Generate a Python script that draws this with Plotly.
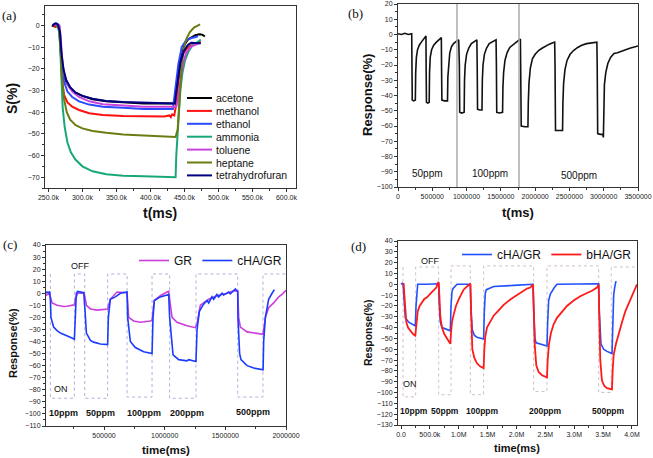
import numpy as np
import plotly.graph_objects as go

# ---------- (a) S(%) vs t, time in units of 1000 ms ----------
gases = ["acetone", "methanol", "ethanol", "ammonia", "toluene", "heptane", "tetrahydrofuran"]
gas_colors = ["#000000", "#ff1010", "#2a4bff", "#18a878", "#cc44dd", "#6b7d12", "#000080"]

acetone_t = [255, 260, 263, 265, 267, 269, 272, 276, 282, 290, 300, 315, 335, 360, 390, 420, 436, 437, 440, 445, 450, 455, 460, 466, 472, 476, 480]
acetone_s = [0, -0.5, 0, -1, -5, -15, -22, -26, -29, -31, -32.5, -34, -35, -35.5, -36, -36, -36, -34, -25, -15, -9, -6.5, -5.5, -4.5, -4, -4.2, -5]
methanol_t = [257, 262, 266, 268, 270, 273, 278, 285, 295, 310, 330, 360, 390, 420, 428, 430, 432, 435, 437, 440, 444, 448, 455, 462, 470, 474]
methanol_s = [0, -0.5, -1, -10, -25, -32, -35.5, -37.5, -39, -40.5, -41.3, -41.8, -42, -42, -41.5, -42.3, -41, -41.5, -38, -28, -18, -13, -10, -9, -8, -7.5]
ethanol_t = [257, 262, 266, 268, 270, 273, 278, 285, 295, 310, 330, 360, 390, 420, 433, 434, 437, 441, 446, 452, 458, 465, 470]
ethanol_s = [0.5, 1, 0, -8, -20, -26, -30.5, -33, -35, -36.5, -37.5, -38, -38.5, -38.5, -38.5, -36, -28, -18, -10, -7, -6, -5.5, -5]
ammonia_t = [262, 265, 267, 269, 271, 274, 278, 283, 290, 300, 315, 335, 360, 390, 420, 437, 438, 440, 442, 444, 447, 451, 456, 462, 470, 474]
ammonia_s = [0, -1, -8, -25, -38, -47, -54, -58.5, -62, -65, -67.3, -68.7, -69.3, -69.6, -69.8, -70, -60, -48, -38, -30, -22, -16, -12, -9, -7.5, -6.5]
toluene_t = [257, 262, 266, 268, 270, 273, 278, 285, 295, 310, 330, 360, 390, 420, 438, 440, 443, 447, 452, 458, 465, 470, 474]
toluene_s = [0.5, 0.5, 0, -5, -15, -22, -27, -30.5, -33, -35, -36.3, -37, -37.5, -37.5, -37.5, -35, -27, -19, -13, -10, -9, -8.5, -8]
heptane_t = [264, 266, 268, 270, 273, 277, 282, 290, 300, 315, 335, 360, 390, 420, 437, 440, 442, 444, 446, 449, 453, 458, 464, 470, 473]
heptane_s = [0, -3, -12, -24, -34, -40, -43.5, -46, -47.5, -48.7, -49.5, -50.3, -50.8, -51.3, -51.5, -48, -40, -28, -18, -11, -6, -3, -1, 0, 0.5]
thf_t = [256, 260, 264, 267, 269, 272, 276, 282, 290, 300, 315, 335, 360, 390, 420, 436, 437, 440, 444, 449, 455, 460, 465, 470, 474]
thf_s = [0, 1, 0.5, -3, -12, -20, -25, -28.5, -31, -32.5, -33.8, -34.8, -35.3, -35.5, -35.8, -36, -33, -25, -17, -12, -9, -8, -8, -8, -8.2]

# ---------- (b) response vs t ----------
b_t = [0, 50, 100, 150, 200, 204, 208, 230, 250, 253,
       258, 268, 285, 310, 340, 370, 400, 408,
       410, 415, 435, 455, 460, 470, 490, 520, 560, 600, 632,
       635, 640, 680, 722, 727, 738, 755, 780, 810, 850, 885,
       895, 900, 930, 965, 970, 980, 1000, 1030, 1070, 1110, 1150,
       1155, 1160, 1190, 1225, 1230, 1240, 1260, 1290, 1330, 1380, 1430,
       1435, 1440, 1480, 1525, 1530, 1540, 1560, 1590, 1630, 1680, 1740, 1785,
       1790, 1797, 1850, 1895, 1900, 1910, 1930, 1960, 2000, 2050, 2100, 2150, 2200, 2240, 2285,
       2290, 2297, 2350, 2400, 2405, 2415, 2435, 2465, 2510, 2560, 2620, 2680, 2750, 2820, 2900,
       2905, 2912, 2950, 2985, 2995, 3000, 3010, 3030, 3060, 3100, 3150, 3200, 3280, 3380, 3500]
b_r = [0.5, 0, 0.8, 0, 0.5, -20, -43, -43.5, -43, -43,
       -25, -15, -10, -7, -5, -3, -1.5, -1,
       -20, -44.5, -45, -44.5, -25, -15, -10, -7, -5, -3, -2,
       -20, -43, -43.5, -43.5, -28, -18, -12, -8, -6, -4.5, -3.5,
       -20, -51, -51.5, -51, -30, -20, -13, -9, -6, -4.5, -3.5,
       -20, -49, -49.5, -49.5, -30, -20, -13, -9, -6, -4.5, -3.5,
       -20, -51, -51.5, -51, -35, -25, -17, -12, -8.5, -6.5, -4.5, -3,
       -20, -60, -60.5, -60.5, -45, -32, -22, -16, -13, -10.5, -9, -7.5, -6.5, -5.8, -5,
       -20, -63, -63, -63, -45, -32, -23, -17, -13, -10.5, -8.5, -7, -6, -5.5, -5,
       -20, -65, -65.5, -65.5, -67.5, -45, -33, -25, -19, -15, -12.5, -12, -10.5, -9, -7.5]
b_dividers = [860, 1765]
b_labels = ["50ppm", "100ppm", "500ppm"]
b_label_t = [423, 1346, 2644]
b_label_y = [-91.3, -91.3, -92.4]

# ---------- (c) GR vs cHA/GR ----------
gr_t = [22, 44, 58, 72, 113, 168, 195, 256, 264, 283, 333, 341, 355, 388, 443, 497, 530, 552, 594, 607,
        690, 695, 703, 745, 800, 882, 896, 915, 964, 1019, 1033, 1041, 1061, 1102, 1184, 1253, 1267, 1294, 1363, 1431,
        1514, 1569, 1602, 1610, 1624, 1679, 1789, 1811, 1830, 1857, 1898, 1940, 1967, 2000]
gr_r = [-2, 0, -3, -8, -10, -11, -10.8, -9.5, -5, 0, 0.3, -2, -10, -13, -14, -13.5, -13, -5, -1, 1,
        0.5, -10, -20, -23, -24, -23, -22.5, -6, -2, 1, 1.5, -5, -20, -24, -27, -28.5, -25, -10, -5, -2,
        0, 2, 2, -20, -28, -32, -34, -34, -20, -12, -8, -3, -1, 2.5]
cha_c_t = [22, 30, 44, 52, 58, 63, 85, 113, 141, 195, 236, 256, 262, 272, 283, 319, 333, 344, 355, 388,
           415, 470, 530, 536, 552, 594, 635, 690, 695, 717, 758, 827, 896, 904, 915, 964, 1033, 1041, 1061, 1069,
           1116, 1184, 1198, 1258, 1267, 1286, 1321, 1349, 1363, 1390, 1404, 1431, 1445, 1473, 1486, 1528, 1541, 1569, 1583, 1602,
           1604, 1618, 1629, 1679, 1734, 1811, 1816, 1830, 1857, 1885, 1904]
cha_c_r = [0, 1, 0.5, 1.5, -5, -20, -28, -31, -33, -35, -37, -38, -20, 0, 1.5, 1, 0.5, -15, -33, -39,
           -40.5, -42, -42.5, -20, -5, -3, 0, 1, -20, -40, -45, -48.5, -50, -20, -6, -3, -1, -20, -48, -51,
           -55, -56, -55, -56.5, -30, -15, -9, -6, -8, -3, -5, -1, -3, 0, -1.5, 1, -0.5, 2, 3.5, 1,
           -20, -50, -55, -60, -62, -63.5, -40, -20, -5, 0, 3]
sw_c_t = [58, 58, 256, 341, 530, 690, 896, 1041, 1258, 1602, 1810, 2000]
sw_c_v = [16, -87, 16, -87, 16, -86, 16, -87, 16, -86, 16, 16]
c_labels = ["10ppm", "50ppm", "100ppm", "200ppm", "500ppm"]
c_label_t = [168, 470, 827, 1184, 1725]
c_label_y = [-99.5, -99.5, -99.5, -99.5, -98.7]

# ---------- (d) cHA/GR vs bHA/GR ----------
cha_d_t = [0, 23, 35, 46, 58, 75, 133, 190, 248, 260, 277, 289, 450, 623, 652, 664, 681, 710, 797, 854,
           866, 883, 900, 941, 970, 1201, 1212, 1235, 1270, 1316, 1431, 1443, 1460, 1478, 1605, 1951, 2286, 2297, 2320, 2338,
           2470, 2528, 2540, 2557, 2586, 2615, 2655, 2701, 3105, 3423, 3434, 3463, 3509, 3567, 3654, 3665, 3683, 3700, 3723]
cha_d_r = [0, 1, 0.5, -10, -25, -31, -35, -37, -38.5, -20, -3, 0, 0, 0.5, 0.5, -20, -35, -40, -42, -43,
           -20, -7, -4, -1, 0, 0, -25, -42, -47, -49, -50.5, -25, -8, -5, -2, -1, 0, -20, -50, -54,
           -56, -57, -35, -15, -9, -6, -3, 0, 0.5, 0.5, -25, -55, -60, -62, -64, -30, -10, -3, 3]
bha_d_t = [35, 46, 58, 75, 92, 121, 162, 208, 248, 260, 271, 289, 323, 364, 404, 450, 496, 537, 577, 612,
           635, 652, 664, 681, 710, 750, 797, 854, 866, 883, 912, 952, 999, 1039, 1085, 1143, 1189, 1201, 1212, 1224,
           1235, 1270, 1316, 1374, 1431, 1443, 1460, 1489, 1547, 1605, 1691, 1778, 1893, 2009, 2095, 2182, 2240, 2286, 2297, 2315,
           2343, 2384, 2442, 2528, 2540, 2563, 2597, 2643, 2701, 2788, 2874, 2990, 3105, 3221, 3307, 3394, 3423, 3434, 3451, 3480,
           3521, 3567, 3654, 3665, 3683, 3723, 3769, 3827, 3885, 3942, 4000, 4058, 4087]
bha_d_r = [0, 1, -10, -30, -35, -40, -43, -46, -47.5, -40, -30, -25, -20, -17, -13.5, -12, -9, -7, -5, -3,
           1, 2, -10, -30, -40, -46, -50, -55, -45, -35, -28, -20, -14, -9, -5, -2, 0, 0.5, -20, -45,
           -60, -68, -73, -76, -77.5, -60, -48, -40, -34, -29, -24, -19, -14, -10, -7, -4, -3, 0, -20, -55,
           -75, -81, -84, -86, -70, -55, -45, -37, -31, -25, -20, -15, -11, -8, -6, -3, 0, -30, -70, -89,
           -94, -96, -97, -80, -65, -55, -45, -35, -25, -18, -12, -5, 0]
sw_d_t = [35, 35, 254, 652, 866, 1201, 1431, 2297, 2528, 3423, 3642, 4087]
sw_d_v = [16, -104, 16, -102, 17, -102, 17, -99, 17, -100, 16, 16]
d_labels = ["10ppm", "50ppm", "100ppm", "200ppm", "500ppm"]
d_label_t = [219, 768, 1403, 2499, 3596]
d_label_y = [-117.5, -117.5, -117.5, -117.5, -117.5]
d_ticks = [0, 500, 1000, 1500, 2000, 2500, 3000, 3500, 4000]
d_ticktext = ["0.0", "500.0k", "1.0M", "1.5M", "2.0M", "2.5M", "3.0M", "3.5M", "4.0M"]

W, H = 653, 458
FONT = "Liberation Sans, Arial, sans-serif"


def ms(v):
    return np.array(v) * 1000


def px(x, y):
    return x / W, 1 - y / H


fig = go.Figure()

a_times = [acetone_t, methanol_t, ethanol_t, ammonia_t, toluene_t, heptane_t, thf_t]
a_vals = [acetone_s, methanol_s, ethanol_s, ammonia_s, toluene_s, heptane_s, thf_s]
for name, t, s, c in zip(gases, a_times, a_vals, gas_colors):
    fig.add_trace(go.Scatter(x=ms(t), y=s, name=name, mode="lines",
                             line=dict(color=c, width=2), showlegend=False,
                             xaxis="x", yaxis="y"))

fig.add_trace(go.Scatter(x=ms(b_t), y=b_r, mode="lines", line=dict(color="#111", width=1.6),
                         showlegend=False, xaxis="x2", yaxis="y2"))

fig.add_trace(go.Scatter(x=ms(sw_c_t), y=sw_c_v, mode="lines", line_shape="hv",
                         line=dict(color="#b0b0dc", width=1, dash="dot"),
                         showlegend=False, xaxis="x3", yaxis="y3"))
fig.add_trace(go.Scatter(x=ms(gr_t), y=gr_r, name="GR", mode="lines",
                         line=dict(color="#cc3ddd", width=1.6), legend="legend",
                         xaxis="x3", yaxis="y3"))
fig.add_trace(go.Scatter(x=ms(cha_c_t), y=cha_c_r, name="cHA/GR", mode="lines",
                         line=dict(color="#1a3cff", width=1.6), legend="legend",
                         xaxis="x3", yaxis="y3"))

fig.add_trace(go.Scatter(x=ms(sw_d_t), y=sw_d_v, mode="lines", line_shape="hv",
                         line=dict(color="#d0c0c0", width=1, dash="dot"),
                         showlegend=False, xaxis="x4", yaxis="y4"))
fig.add_trace(go.Scatter(x=ms(cha_d_t), y=cha_d_r, name="cHA/GR", mode="lines",
                         line=dict(color="#2050ff", width=1.6), legend="legend2",
                         xaxis="x4", yaxis="y4"))
fig.add_trace(go.Scatter(x=ms(bha_d_t), y=bha_d_r, name="bHA/GR", mode="lines",
                         line=dict(color="#ff1a1a", width=1.8), legend="legend2",
                         xaxis="x4", yaxis="y4"))

MINOR = dict(ticks="outside", ticklen=2, tickcolor="#333", showgrid=False)


def axis(domain, anchor, rng, minor_step=None, **kw):
    d = dict(domain=domain, anchor=anchor, range=rng, showline=True, mirror=True,
             linecolor="#333", linewidth=1, ticks="outside", ticklen=3, tickwidth=1,
             tickcolor="#333", tickfont=dict(size=7, color="#222", family=FONT),
             showgrid=False, zeroline=False, automargin=False)
    if minor_step is not None:
        d["minor"] = dict(MINOR, dtick=minor_step)
    d.update(kw)
    return d


fig.update_layout(
    width=W, height=H, autosize=False,
    margin=dict(l=0, r=0, t=0, b=0, pad=0, autoexpand=False),
    paper_bgcolor="white", plot_bgcolor="white",
    font=dict(family=FONT, color="#111"),
    xaxis=axis([45 / W, 296 / W], "y", [245000, 614000], 25000, tick0=250000, dtick=50000,
               tickformat=".4s"),
    yaxis=axis([1 - 188 / H, 1 - 6 / H], "x", [-75, 9], 5, dtick=10),
    xaxis2=axis([398 / W, 638 / W], "y2", [0, 3500000], 250000, dtick=500000, tickformat="d"),
    yaxis2=axis([1 - 187 / H, 1 - 4 / H], "x2", [-100, 20], 5, dtick=10),
    xaxis3=axis([46 / W, 286 / W], "y3", [22000, 2000000], 250000, tick0=0, dtick=500000,
                tickformat="d"),
    yaxis3=axis([1 - 426 / H, 1 - 245 / H], "x3", [-110, 40], 5, dtick=10),
    xaxis4=axis([398 / W, 637 / W], "y4", [-52000, 4087000], tickmode="array",
                tickvals=ms(d_ticks), ticktext=d_ticktext,
                minor=dict(MINOR, tickmode="array", tickvals=ms(d_ticks) + 250000)),
    yaxis4=axis([1 - 425 / H, 1 - 241 / H], "x4", [-130, 40], 5, dtick=10),
    legend=dict(orientation="h", x=287 / W, xanchor="right", y=1 - 246 / H, yanchor="top",
                bgcolor="rgba(0,0,0,0)", font=dict(size=12, family=FONT), itemwidth=30),
    legend2=dict(orientation="h", x=637 / W, xanchor="right", y=1 - 240 / H, yanchor="top",
                 bgcolor="rgba(0,0,0,0)", font=dict(size=12, family=FONT), itemwidth=30),
)

ann = []
shapes = []

# panel (a) legend drawn by hand (Plotly legend rows are too tall here)
for i, (name, c) in enumerate(zip(gases, gas_colors)):
    x0, y0 = px(187, 98 + 12.9 * i)
    x1, _ = px(212, 0)
    shapes.append(dict(type="line", xref="paper", yref="paper", x0=x0, x1=x1, y0=y0, y1=y0,
                       line=dict(color=c, width=2)))
    ann.append(dict(text=name, xref="paper", yref="paper", x=px(214, 0)[0], y=y0,
                    xanchor="left", yanchor="middle", showarrow=False,
                    font=dict(size=10.5, family=FONT, color="#111")))

for xv in b_dividers:
    shapes.append(dict(type="line", xref="x2", yref="y2 domain", x0=xv * 1000, x1=xv * 1000,
                       y0=0, y1=1, line=dict(color="#aaaaaa", width=1.5)))

for txt, t, y in zip(b_labels, b_label_t, b_label_y):
    ann.append(dict(text=txt, x=t * 1000, y=y, xref="x2", yref="y2", showarrow=False,
                    font=dict(size=10, family=FONT, color="#111")))
for txt, t, y in zip(c_labels, c_label_t, c_label_y):
    ann.append(dict(text="<b>%s</b>" % txt, x=t * 1000, y=y, xref="x3", yref="y3", showarrow=False,
                    font=dict(size=9, family=FONT, color="#111")))
for txt, t, y in zip(d_labels, d_label_t, d_label_y):
    ann.append(dict(text="<b>%s</b>" % txt, x=t * 1000, y=y, xref="x4", yref="y4", showarrow=False,
                    font=dict(size=8.5, family=FONT, color="#111")))

ann += [
    dict(text="ON", x=143000, y=-79.6, xref="x3", yref="y3", showarrow=False, font=dict(size=9, family=FONT)),
    dict(text="OFF", x=305000, y=22.9, xref="x3", yref="y3", showarrow=False, font=dict(size=9, family=FONT)),
    dict(text="ON", x=150000, y=-92, xref="x4", yref="y4", showarrow=False, font=dict(size=9, family=FONT)),
    dict(text="OFF", x=496000, y=21.8, xref="x4", yref="y4", showarrow=False, font=dict(size=9, family=FONT)),
]

# axis titles and panel letters (pixel centres)
titles = [
    ("<b>S(%)</b>", 12, 99, 14, -90),
    ("<b>t(ms)</b>", 160, 213, 14, 0),
    ("<b>Response(%)</b>", 368, 95, 13, -90),
    ("<b>t(ms)</b>", 518, 212, 13, 0),
    ("<b>Response(%)</b>", 13, 343, 11, -90),
    ("<b>time(ms)</b>", 166, 450, 11.5, 0),
    ("<b>Response(%)</b>", 368, 333, 10.5, -90),
    ("<b>time(ms)</b>", 517, 448, 11, 0),
]
for txt, x, y, size, rot in titles:
    xp, yp = px(x, y)
    ann.append(dict(text=txt, x=xp, y=yp, xref="paper", yref="paper", showarrow=False,
                    xanchor="center", yanchor="middle",
                    textangle=rot, font=dict(size=size, family=FONT, color="#111")))

for txt, x, y in [("(a)", 9, 15), ("(b)", 355, 14), ("(c)", 9.5, 244), ("(d)", 358, 246)]:
    xp, yp = px(x, y)
    ann.append(dict(text=txt, x=xp, y=yp, xref="paper", yref="paper", showarrow=False,
                    xanchor="center", yanchor="middle",
                    font=dict(size=13, family="Liberation Serif, Times New Roman, serif", color="#111")))

fig.update_layout(annotations=ann, shapes=shapes)
# drop the browser's default 8px body margin so the figure sits at the page corner
fig.write_html("out.html", config={"displayModeBar": False},
               post_script="document.body.style.margin = '0px';")
